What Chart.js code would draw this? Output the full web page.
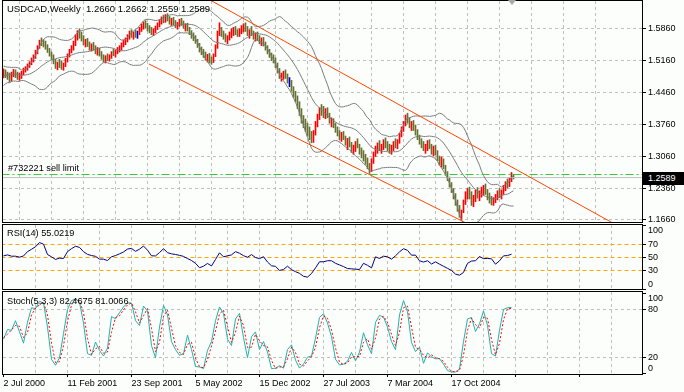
<!DOCTYPE html>
<html>
<head>
<meta charset="utf-8">
<script src="https://cdn.jsdelivr.net/npm/chart.js@4.4.1/dist/chart.umd.min.js"></script>
<style>
  body { margin: 0; background: #fcfefc; }
  #wrap { position: relative; width: 684px; height: 392px; overflow: hidden; background: #fcfefc;
          font-family: "Liberation Sans", Arial, sans-serif; }
  canvas { position: absolute; left: 0; }
  .lbl { position: absolute; font-size: 9.2px; line-height: 11px; color: #000; white-space: pre; }
  #pricebox { position: absolute; left: 643px; width: 36px; height: 13px; background: #000; color: #fff;
              font-size: 9px; line-height: 13px; padding-left: 5px; }
  #shift { position: absolute; left: 508px; top: 0; width: 0; height: 0;
           border-left: 4px solid transparent; border-right: 4px solid transparent; border-top: 5px solid #a8a8a8; }
</style>
</head>
<body>
<div id="wrap">
  <canvas id="mainChart" width="684" height="223" style="top:0"></canvas>
  <canvas id="rsiChart" width="684" height="67" style="top:223px"></canvas>
  <canvas id="stochChart" width="684" height="102" style="top:290px"></canvas>
  <div class="lbl" id="title" style="left:7px;top:3px;font-size:9.5px">USDCAD,Weekly  1.2660 1.2662 1.2559 1.2589</div>
  <div class="lbl" id="orderLbl" style="left:8px;top:163px">#732221 sell limit</div>
  <div class="lbl" style="left:7px;top:228px">RSI(14) 55.0219</div>
  <div class="lbl" style="left:7px;top:296px">Stoch(5,3,3) 82.4675 81.0066</div>
  <div id="pricebox">1.2589</div>
  <div id="shift"></div>
</div>
<script>
// tick labels
const dateLabels = ['2 Jul 2000', '11 Feb 2001', '23 Sep 2001', '5 May 2002', '15 Dec 2002', '27 Jul 2003', '7 Mar 2004', '17 Oct 2004'];
const priceTicks = [1.1660, 1.2360, 1.3060, 1.3760, 1.4460, 1.5160, 1.5860];
const rsiTicks = [0, 30, 50, 70, 100];
const rsiLevels = [30, 50, 70];
const stochTicks = [0, 20, 80, 100];
const stochLevels = [20, 80];

// weekly closes before the first visible bar (only feed the bands)
const preCloses = [1.4600, 1.4650, 1.4720, 1.4680, 1.4760, 1.4830, 1.4900, 1.4980, 1.5020, 1.4950,
                   1.4880, 1.4920, 1.4850, 1.4800, 1.4740, 1.4790, 1.4850, 1.4820, 1.4780];

const highs = [
  1.4970,1.4950,1.4900,1.4880,1.4900,1.4960,1.4950,1.4900,1.4880,1.4920,1.4990,1.5020,1.5080,1.5130,1.5210,1.5280,
  1.5380,1.5480,1.5600,1.5650,1.5610,1.5580,1.5500,1.5420,1.5340,1.5280,1.5180,1.5120,1.5180,1.5150,1.5100,1.5200,
  1.5300,1.5400,1.5480,1.5580,1.5720,1.5810,1.5850,1.5780,1.5700,1.5620,1.5640,1.5560,1.5520,1.5550,1.5480,1.5440,
  1.5420,1.5350,1.5280,1.5260,1.5300,1.5280,1.5350,1.5400,1.5380,1.5440,1.5480,1.5540,1.5600,1.5650,1.5720,1.5800,
  1.5830,1.5780,1.5820,1.5800,1.5880,1.5950,1.6000,1.6030,1.5970,1.5920,1.5880,1.5850,1.5910,1.5980,1.6050,1.6110,
  1.6150,1.6160,1.6180,1.6120,1.6080,1.6100,1.6030,1.5990,1.6060,1.6080,1.6020,1.5960,1.5970,1.5880,1.5810,1.5760,
  1.5700,1.5620,1.5530,1.5450,1.5400,1.5340,1.5290,1.5310,1.5230,1.5300,1.5500,1.5800,1.5980,1.5880,1.5800,1.5740,
  1.5700,1.5780,1.5850,1.5880,1.5900,1.5830,1.5850,1.5920,1.5960,1.5980,1.5900,1.5830,1.5900,1.5800,1.5760,1.5780,
  1.5700,1.5650,1.5660,1.5560,1.5480,1.5400,1.5320,1.5280,1.5210,1.5100,1.4980,1.4880,1.4920,1.4950,1.4860,1.4780,
  1.4720,1.4580,1.4480,1.4380,1.4250,1.4100,1.3950,1.3870,1.3780,1.3700,1.3600,1.3620,1.3820,1.3980,1.4120,1.4190,
  1.4150,1.4100,1.4120,1.4000,1.3900,1.3880,1.3780,1.3700,1.3620,1.3580,1.3600,1.3500,1.3450,1.3480,1.3360,1.3300,
  1.3380,1.3440,1.3320,1.3240,1.3180,1.3100,1.3020,1.2900,1.3000,1.3150,1.3280,1.3350,1.3400,1.3320,1.3420,1.3460,
  1.3380,1.3320,1.3300,1.3380,1.3440,1.3420,1.3560,1.3700,1.3820,1.3960,1.4000,1.3900,1.3820,1.3840,1.3740,1.3640,
  1.3520,1.3440,1.3380,1.3320,1.3400,1.3420,1.3320,1.3280,1.3300,1.3180,1.3060,1.3040,1.3000,1.2860,1.2720,1.2600,
  1.2480,1.2350,1.2240,1.2100,1.1980,1.1880,1.2100,1.2280,1.2350,1.2380,1.2280,1.2200,1.2320,1.2370,1.2300,1.2380,
  1.2420,1.2450,1.2330,1.2250,1.2180,1.2150,1.2220,1.2300,1.2350,1.2320,1.2420,1.2500,1.2560,1.2590,1.2700,1.2662
];
const lows = [
  1.4775,1.4780,1.4740,1.4680,1.4700,1.4800,1.4780,1.4740,1.4720,1.4760,1.4840,1.4900,1.4940,1.5000,1.5060,1.5120,
  1.5200,1.5300,1.5420,1.5480,1.5450,1.5400,1.5330,1.5250,1.5180,1.5080,1.4980,1.4950,1.5000,1.4960,1.4940,1.5020,
  1.5120,1.5230,1.5320,1.5380,1.5480,1.5600,1.5640,1.5580,1.5500,1.5450,1.5460,1.5380,1.5360,1.5380,1.5300,1.5270,
  1.5250,1.5180,1.5120,1.5100,1.5150,1.5140,1.5200,1.5260,1.5230,1.5300,1.5340,1.5380,1.5450,1.5500,1.5560,1.5620,
  1.5660,1.5620,1.5660,1.5640,1.5720,1.5790,1.5840,1.5860,1.5800,1.5760,1.5720,1.5700,1.5760,1.5830,1.5890,1.5950,
  1.5980,1.5990,1.6020,1.5950,1.5920,1.5930,1.5870,1.5840,1.5900,1.5920,1.5860,1.5800,1.5800,1.5720,1.5640,1.5590,
  1.5530,1.5440,1.5340,1.5280,1.5220,1.5160,1.5120,1.5100,1.5070,1.5110,1.5240,1.5420,1.5700,1.5680,1.5620,1.5560,
  1.5520,1.5600,1.5650,1.5700,1.5720,1.5680,1.5680,1.5740,1.5780,1.5790,1.5700,1.5640,1.5700,1.5620,1.5580,1.5590,
  1.5520,1.5480,1.5470,1.5380,1.5300,1.5220,1.5150,1.5100,1.5000,1.4880,1.4760,1.4700,1.4740,1.4760,1.4660,1.4580,
  1.4480,1.4350,1.4250,1.4100,1.3950,1.3780,1.3680,1.3600,1.3500,1.3420,1.3350,1.3360,1.3520,1.3700,1.3860,1.3950,
  1.3900,1.3880,1.3900,1.3780,1.3700,1.3680,1.3580,1.3500,1.3420,1.3380,1.3420,1.3300,1.3200,1.3260,1.3140,1.3100,
  1.3160,1.3240,1.3100,1.3020,1.2950,1.2880,1.2780,1.2680,1.2720,1.2900,1.3050,1.3120,1.3180,1.3120,1.3200,1.3240,
  1.3180,1.3120,1.3100,1.3180,1.3240,1.3220,1.3340,1.3480,1.3600,1.3720,1.3780,1.3680,1.3620,1.3620,1.3520,1.3420,
  1.3320,1.3240,1.3180,1.3120,1.3180,1.3220,1.3100,1.3060,1.3080,1.2960,1.2860,1.2820,1.2780,1.2640,1.2520,1.2380,
  1.2260,1.2120,1.1980,1.1850,1.1720,1.1660,1.1820,1.2000,1.2120,1.2120,1.1980,1.1950,1.2060,1.2140,1.2080,1.2160,
  1.2200,1.2220,1.2100,1.2030,1.1990,1.1980,1.2040,1.2100,1.2150,1.2120,1.2220,1.2300,1.2360,1.2390,1.2500,1.2559
];
const closes = [
  1.4880,1.4830,1.4790,1.4720,1.4850,1.4900,1.4830,1.4780,1.4800,1.4880,1.4960,1.4990,1.5060,1.5100,1.5180,1.5250,
  1.5350,1.5450,1.5560,1.5520,1.5490,1.5440,1.5360,1.5280,1.5220,1.5100,1.5020,1.5080,1.5050,1.5000,1.5060,1.5160,
  1.5270,1.5380,1.5440,1.5550,1.5680,1.5760,1.5700,1.5620,1.5540,1.5580,1.5500,1.5420,1.5470,1.5400,1.5340,1.5400,
  1.5300,1.5220,1.5170,1.5230,1.5180,1.5250,1.5320,1.5300,1.5350,1.5400,1.5450,1.5510,1.5560,1.5620,1.5690,1.5760,
  1.5700,1.5740,1.5690,1.5690,1.5850,1.5920,1.5960,1.5900,1.5840,1.5800,1.5760,1.5820,1.5880,1.5950,1.6010,1.6070,
  1.6020,1.6120,1.6060,1.5990,1.6040,1.5970,1.5900,1.5950,1.6020,1.5960,1.5890,1.5930,1.5830,1.5760,1.5680,1.5640,
  1.5580,1.5480,1.5380,1.5320,1.5260,1.5200,1.5250,1.5160,1.5130,1.5270,1.5460,1.5750,1.5800,1.5720,1.5660,1.5620,
  1.5660,1.5740,1.5800,1.5830,1.5760,1.5720,1.5810,1.5850,1.5900,1.5830,1.5750,1.5780,1.5720,1.5680,1.5700,1.5620,
  1.5580,1.5600,1.5500,1.5420,1.5340,1.5260,1.5200,1.5150,1.5040,1.4920,1.4800,1.4850,1.4890,1.4800,1.4700,1.4700,
  1.4520,1.4400,1.4300,1.4160,1.4000,1.3820,1.3750,1.3650,1.3560,1.3480,1.3420,1.3580,1.3780,1.3920,1.4050,1.4000,
  1.3960,1.4050,1.3950,1.3820,1.3850,1.3720,1.3620,1.3550,1.3480,1.3530,1.3450,1.3350,1.3380,1.3300,1.3200,1.3250,
  1.3320,1.3280,1.3150,1.3080,1.3000,1.2950,1.2820,1.2760,1.2950,1.3100,1.3200,1.3300,1.3230,1.3280,1.3380,1.3300,
  1.3250,1.3180,1.3260,1.3340,1.3280,1.3380,1.3520,1.3660,1.3780,1.3900,1.3820,1.3740,1.3760,1.3680,1.3560,1.3480,
  1.3380,1.3300,1.3240,1.3280,1.3350,1.3260,1.3150,1.3220,1.3120,1.3000,1.2900,1.2980,1.2820,1.2680,1.2560,1.2420,
  1.2300,1.2180,1.2020,1.1900,1.1780,1.1850,1.2050,1.2220,1.2300,1.2150,1.2030,1.2150,1.2260,1.2180,1.2250,1.2320,
  1.2380,1.2260,1.2150,1.2080,1.2040,1.2100,1.2180,1.2250,1.2200,1.2280,1.2380,1.2460,1.2420,1.2550,1.2660,1.2589
];

// indicator readings, one every second week
const rsi = [
  52.5,54,52,52,50.5,52.3,59,62.6,66.5,73,70.5,54.6,51,47,49,48.5,
  59,63.6,67.2,65.6,59,54.8,53,51.8,47.5,47.4,45.3,51,53,55.6,58.5,63,
  64,59.5,62.8,67.6,61.2,52.6,52.4,57.6,63.5,57.5,55.6,54.6,53.3,51.7,48.3,45.4,
  41,34.3,36.6,40.8,37,47,57.2,51,52.6,54,59,56.5,52.8,50.4,54.5,50,
  48.2,51.2,43,37.2,36.4,30,31.6,36.6,31.2,28.2,25.6,21,19.8,25.4,34,43.4,
  43.4,45,45,41,38.6,36,33,32.5,32,31.5,41,38,34,51,48.5,52,
  51,47.5,52.6,58.7,63.5,61,53.5,53.6,44.9,43,45,40,43.3,39.7,36.5,33.3,
  30,24.4,22.8,27,41,44.5,45,51.5,48.2,48.5,48,39.7,44.9,52.5,53,55.0
];
const stochMain = [
  43,55,54,66,52,38,64,82,81,90,88,58,18,10.5,20,50,
  80,91,93,89,63,25,23,39.5,29,22,32,71,68.4,76,83,88,
  88,66,60,84,78,35,20,58,85,73,40,30,23,25,48,30,
  9,8.4,6.5,29,40,66,83,75,43,35,68,75,45,20,46,52,
  30,40,27,6.3,7,10,7,30,36,17,7,12,20.5,22,44,70,
  74.6,63,46,18,11,12,15.5,26.5,16,27,51,36,25,64,72.5,70.5,
  58,40,30,73,91,77,39,27.5,33,13,26,21,18.6,18.8,12,4,
  2.2,2.2,6,40,68,70,52.5,62,78,60,25,22,54,80,82,82.5
];
const stochSignal = [
  45,49,54.5,60,59,45,51,73,81.5,85.5,89,73,38,14,15,35,
  65,85.5,92,91,76,44,24,31,34,25.5,27,51.5,69.7,72,79.5,85.5,
  88,77,63,72,81,56.5,27.5,39,71.5,79,56.5,35,26.5,24,36.5,39,
  19.5,8.7,7.5,17.8,34.5,53,74.5,79,59,39,51.5,71.5,60,32.5,33,49,
  41,35,33.5,16.6,6.6,8.5,8.5,18.5,33,26.5,12,9.5,16,21,33,57,
  72,69,54.5,32,14.5,11.5,13.7,21,21,21.5,39,43.5,30.5,44.5,68,71.5,
  64,49,35,51.5,82,84,58,33,30,23,19.5,23.5,19.8,18.7,15.4,8,
  3.1,2.2,4.1,23,54,69,61,57,70,69,42.5,23.5,38,67,81,81
];

// drawn objects: trend lines as [week, price] anchors, order level, last bid
const upperChannel = [[100, 1.6560], [312, 1.1415]];
const lowerChannel = [[72.75, 1.5078], [236, 1.1490]];
const sellLimit = 1.2657;
const lastPrice = 1.2589;

const FONT = '"Liberation Sans", Arial, sans-serif';
const GRID = '#c0c0c0';
const NONE = 'rgba(0,0,0,0)';

// Bollinger(20, 2) from the closes
const allCloses = preCloses.concat(closes);
const bbMid = [], bbUp = [], bbLo = [];
for (let i = 0; i < closes.length; i++) {
  const win = allCloses.slice(i, i + 20);
  const m = win.reduce((a, b) => a + b, 0) / 20;
  const sd = Math.sqrt(win.reduce((a, b) => a + (b - m) * (b - m), 0) / 20);
  bbMid.push({x: i, y: m});
  bbUp.push({x: i, y: m + 2 * sd});
  bbLo.push({x: i, y: m - 2 * sd});
}

const barColors = closes.map((c, i) => {
  const prev = i === 0 ? preCloses[preCloses.length - 1] : closes[i - 1];
  if (c > prev) return '#ff0000';
  if (c < prev) return '#66702f';
  return '#0000c8';
});

const framePlugin = {
  id: 'frame',
  afterDraw(chart) {
    const {ctx, chartArea: a} = chart;
    ctx.save();
    ctx.strokeStyle = '#000';
    ctx.lineWidth = 1;
    ctx.strokeRect(a.left - 0.5, a.top - 0.5, a.right - a.left + 1, a.bottom - a.top + 1);
    ctx.restore();
  }
};

function noPad(s) {
  s.paddingTop = 0; s.paddingBottom = 0; s.paddingLeft = 0; s.paddingRight = 0;
}

function xAxis(showLabels) {
  return {
    type: 'linear', min: -0.25, max: 319.25, offset: false,
    afterBuildTicks: s => {
      const t = [];
      for (let v = 0; v <= 319; v += 16) t.push({value: v});
      s.ticks = t;
    },
    afterFit: s => { s.height = showLabels ? 18 : 0; noPad(s); },
    grid: {
      color: c => (c.tick && c.tick.value > 0 ? GRID : NONE),
      drawTicks: showLabels, tickLength: 3, tickBorderDash: [],
      tickColor: c => (c.tick && c.tick.value % 32 === 0 ? '#000' : NONE)
    },
    border: {display: false, dash: [3, 3]},
    ticks: {
      display: showLabels, autoSkip: false, maxRotation: 0, minRotation: 0, align: 'start', padding: 1,
      font: {family: FONT, size: 9}, color: '#000',
      callback: v => (v % 32 === 0 && dateLabels[v / 32]) ? dateLabels[v / 32] : ''
    }
  };
}

function yAxis(min, max, ticks, label, gridColor, dash) {
  return {
    position: 'right', min: min, max: max,
    afterBuildTicks: s => { s.ticks = ticks.map(v => ({value: v})); },
    afterFit: s => { s.width = 42; noPad(s); },
    grid: {color: gridColor, tickColor: '#000', tickLength: 4, tickBorderDash: []},
    border: {display: false, dash: dash},
    ticks: {autoSkip: false, padding: 2, font: {family: FONT, size: 9}, color: '#000', callback: label}
  };
}

function line(data, color, order, extra) {
  return Object.assign({type: 'line', data: data, borderColor: color, borderWidth: 1,
    pointRadius: 0, fill: false, tension: 0, order: order}, extra || {});
}

const common = {
  responsive: false, animation: false, devicePixelRatio: 1, events: [],
  plugins: {legend: {display: false}, tooltip: {enabled: false}}
};

const toPts = arr => arr.map(p => ({x: p[0], y: p[1]}));
const every2 = arr => arr.map((v, k) => ({x: 2 * k, y: v}));
const level = v => [{x: -1, y: v}, {x: 320, y: v}];
const minMaxLabel = v => (v === 100 ? ['', '100'] : v === 0 ? ['0', ''] : String(v));

const mainChart = new Chart(document.getElementById('mainChart'), {
  type: 'bar',
  data: {
    datasets: [
      line(toPts(upperChannel), '#ff4500', 0),
      line(toPts(lowerChannel), '#ff4500', 0),
      line(level(sellLimit), '#32cd32', 1, {borderDash: [8, 3, 2, 3]}),
      line(bbUp, '#7a7a7a', 2),
      line(bbMid, '#7a7a7a', 2),
      line(bbLo, '#7a7a7a', 2),
      line(level(lastPrice), '#c0c0c0', 3),
      {
        type: 'bar', order: 4, grouped: false, barThickness: 1, borderWidth: 0,
        data: highs.map((h, i) => ({x: i, y: [lows[i], h]})),
        backgroundColor: barColors
      }
    ]
  },
  options: Object.assign({}, common, {
    layout: {padding: {left: 3, top: 1, right: 0, bottom: 1}},
    scales: {
      x: xAxis(false),
      y: yAxis(1.1616, 1.6458, priceTicks, v => v.toFixed(4), GRID, [3, 3])
    }
  }),
  plugins: [framePlugin]
});

new Chart(document.getElementById('rsiChart'), {
  type: 'line',
  data: {datasets: [line(every2(rsi), '#000080', 0)].concat(
    rsiLevels.map(v => line(level(v), '#ffa500', 1, {borderDash: [4, 3]})))},
  options: Object.assign({}, common, {
    layout: {padding: {left: 3, top: 2, right: 0, bottom: 1}},
    scales: {
      x: xAxis(false),
      y: yAxis(1.5, 100, rsiTicks, minMaxLabel, NONE, [4, 3])
    }
  }),
  plugins: [framePlugin]
});

new Chart(document.getElementById('stochChart'), {
  type: 'line',
  data: {datasets: [
    line(every2(stochMain), '#20b2aa', 1),
    line(every2(stochSignal), '#ff0000', 0, {borderDash: [2, 2]})
  ]},
  options: Object.assign({}, common, {
    layout: {padding: {left: 3, top: 2, right: 0, bottom: 0}},
    scales: {
      x: xAxis(true),
      y: yAxis(-0.3, 101.6, stochTicks, minMaxLabel,
        c => (c.tick && stochLevels.includes(c.tick.value) ? GRID : NONE), [3, 3])
    }
  }),
  plugins: [framePlugin]
});

// place the price box and the order label on their levels
const yS = mainChart.scales.y;
document.getElementById('pricebox').style.top = Math.round(yS.getPixelForValue(lastPrice) - 6) + 'px';
document.getElementById('orderLbl').style.top = Math.round(yS.getPixelForValue(sellLimit) - 11) + 'px';
</script>
</body>
</html>
